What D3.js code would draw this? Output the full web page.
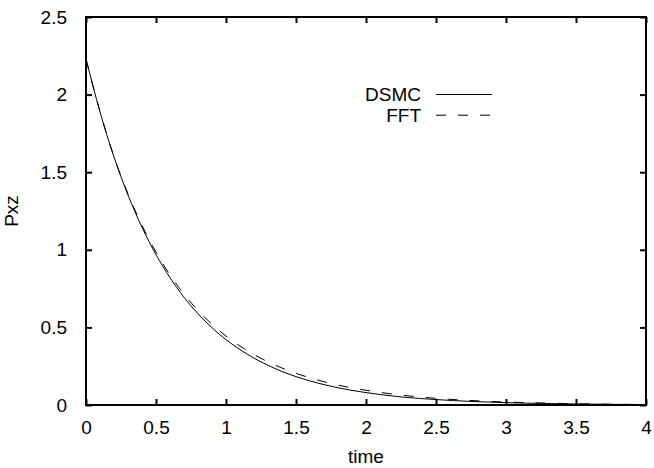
<!DOCTYPE html>
<html>
<head>
<meta charset="utf-8">
<script src="https://cdn.jsdelivr.net/npm/d3@7"></script>
<style>
html,body{margin:0;padding:0;background:#fff;}
svg{display:block;}
text{font-family:"Liberation Sans",Arial,Helvetica,sans-serif;fill:#000;}
</style>
</head>
<body>
<svg id="chart" width="654" height="468"></svg>
<script>
// Data
const timeValues = [0,0.1,0.2,0.3,0.4,0.5,0.6,0.7,0.8,0.9,1.0,1.1,1.2,1.3,1.4,1.5,1.6,1.7,1.8,1.9,2.0,2.25,2.5,2.75,3.0,3.25,3.5,3.75,4.0];
const dsmcValues = [2.23,1.888,1.598,1.353,1.145,0.969,0.820,0.694,0.588,0.498,0.421,0.357,0.302,0.256,0.216,0.183,0.155,0.131,0.111,0.094,0.080,0.052,0.035,0.023,0.015,0.010,0.0065,0.0043,0.0028];
const fftValues  = [2.23,1.89,1.60,1.36,1.158,0.985,0.838,0.714,0.609,0.520,0.444,0.380,0.325,0.278,0.238,0.204,0.175,0.150,0.128,0.110,0.095,0.064,0.043,0.029,0.019,0.013,0.008,0.005,0.003];
const xTicks = [0,0.5,1,1.5,2,2.5,3,3.5,4];
const yTicks = [0,0.5,1,1.5,2,2.5];
const seriesNames = ["DSMC","FFT"];
const xLabel = "time";
const yLabel = "Pxz";

const svg = d3.select("#chart");
const L = 86, R = 646, T = 17, B = 405;
const x = d3.scaleLinear().domain([0,4]).range([L,R]);
const y = d3.scaleLinear().domain([0,2.5]).range([B,T]);
const fs = 19, tickLen = 6;

const fmt = d => String(d);

// axes: bottom, left with inward ticks; top, right mirror ticks
const gB = svg.append("g").attr("transform",`translate(0,${B})`)
  .call(d3.axisBottom(x).tickValues(xTicks).tickFormat(fmt).tickSizeInner(-tickLen).tickSizeOuter(0).tickPadding(16));
const gL = svg.append("g").attr("transform",`translate(${L},0)`)
  .call(d3.axisLeft(y).tickValues(yTicks).tickFormat(fmt).tickSizeInner(-tickLen).tickSizeOuter(0).tickPadding(19));
const gT = svg.append("g").attr("transform",`translate(0,${T})`)
  .call(d3.axisTop(x).tickValues(xTicks).tickFormat("").tickSizeInner(-tickLen).tickSizeOuter(0));
const gR = svg.append("g").attr("transform",`translate(${R},0)`)
  .call(d3.axisRight(y).tickValues(yTicks).tickFormat("").tickSizeInner(-tickLen).tickSizeOuter(0));
[gB,gL,gT,gR].forEach(g=>{
  g.select(".domain").remove();
  g.selectAll(".tick line").attr("stroke","#000").attr("stroke-width",2);
  g.selectAll(".tick text").attr("font-size",fs).attr("font-family",'"Liberation Sans",Arial,sans-serif').attr("fill","#000");
});

// frame
svg.append("rect").attr("x",L).attr("y",T).attr("width",R-L).attr("height",B-T)
  .attr("fill","none").attr("stroke","#000").attr("stroke-width",2);

// lines
const data = [dsmcValues, fftValues];
const dashes = [null, "10,12"];
const line = d3.line().x((d,i)=>x(timeValues[i])).y(d=>y(d)).curve(d3.curveMonotoneX);
data.forEach((vals,k)=>{
  svg.append("path").datum(vals).attr("d",line)
    .attr("fill","none").attr("stroke","#000").attr("stroke-width",1)
    .attr("stroke-dasharray",dashes[k]);
});

// legend
seriesNames.forEach((name,k)=>{
  const ly = 94.5 + k*20.7;
  svg.append("text").attr("x",421).attr("y",ly+6.8).attr("text-anchor","end")
    .attr("font-size",fs).text(name);
  svg.append("line").attr("x1",436).attr("x2",492).attr("y1",ly).attr("y2",ly)
    .attr("stroke","#000").attr("stroke-width",1).attr("stroke-dasharray",dashes[k]);
});

// axis labels
svg.append("text").attr("x",(L+R)/2).attr("y",463).attr("text-anchor","middle").attr("font-size",fs).text(xLabel);
svg.append("text").attr("transform",`translate(17.5,${(T+B)/2}) rotate(-90)`).attr("text-anchor","middle").attr("font-size",fs).text(yLabel);
</script>
</body>
</html>
